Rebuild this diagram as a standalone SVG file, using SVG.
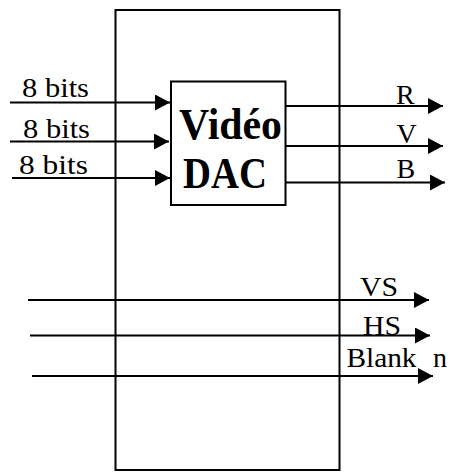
<svg xmlns="http://www.w3.org/2000/svg" width="452" height="472" viewBox="0 0 452 472">
<style>
.box{fill:none;stroke:#000;stroke-width:2}
.wire{stroke:#000;stroke-width:2;fill:none;marker-end:url(#ah)}
.lbl{font-family:"Liberation Serif","Times New Roman",serif;font-size:28px;fill:#000}
.big{font-family:"Liberation Serif","Times New Roman",serif;font-size:44px;font-weight:bold;fill:#000}
</style>
<defs>
<marker id="ah" markerUnits="userSpaceOnUse" markerWidth="16" markerHeight="16" refX="15" refY="8" orient="auto">
<path d="M0,0 L15,8 L0,16 Z" fill="#000"/>
</marker>
</defs>
<rect width="452" height="472" fill="#fff"/>
<g id="outer">
<rect class="box" x="115.5" y="10" width="224" height="460"/>
</g>
<g id="dac">
<rect class="box" x="171" y="81.5" width="114.5" height="123.5"/>
<text class="big" x="179" y="139" textLength="103" lengthAdjust="spacingAndGlyphs">Vidéo</text>
<text class="big" x="183" y="188" textLength="84" lengthAdjust="spacingAndGlyphs">DAC</text>
</g>
<g id="connectors">
<line class="wire" x1="10" y1="102.5" x2="170" y2="102.5"/>
<line class="wire" x1="10" y1="141.5" x2="169" y2="141.5"/>
<line class="wire" x1="12" y1="178" x2="170" y2="178"/>
<line class="wire" x1="285" y1="106" x2="443" y2="106"/>
<line class="wire" x1="285" y1="146" x2="443" y2="146"/>
<line class="wire" x1="285" y1="182.5" x2="445" y2="182.5"/>
<line class="wire" x1="28" y1="300" x2="429" y2="300"/>
<line class="wire" x1="30" y1="335.5" x2="430" y2="335.5"/>
<line class="wire" x1="32" y1="376" x2="433" y2="376"/>
</g>
<g id="labels">
<text class="lbl" x="22" y="97" textLength="67" lengthAdjust="spacingAndGlyphs">8 bits</text>
<text class="lbl" x="23" y="138" textLength="67" lengthAdjust="spacingAndGlyphs">8 bits</text>
<text class="lbl" x="19" y="174" textLength="69" lengthAdjust="spacingAndGlyphs">8 bits</text>
<text class="lbl" x="396" y="104">R</text>
<text class="lbl" x="396.5" y="143">V</text>
<text class="lbl" x="396.5" y="178">B</text>
<text class="lbl" x="360" y="296" textLength="38" lengthAdjust="spacingAndGlyphs">VS</text>
<text class="lbl" x="363" y="335" textLength="38" lengthAdjust="spacingAndGlyphs">HS</text>
<text class="lbl" x="346.5" y="367"><tspan textLength="70" lengthAdjust="spacingAndGlyphs">Blank</tspan><tspan x="433">n</tspan></text>
</g>
</svg>
